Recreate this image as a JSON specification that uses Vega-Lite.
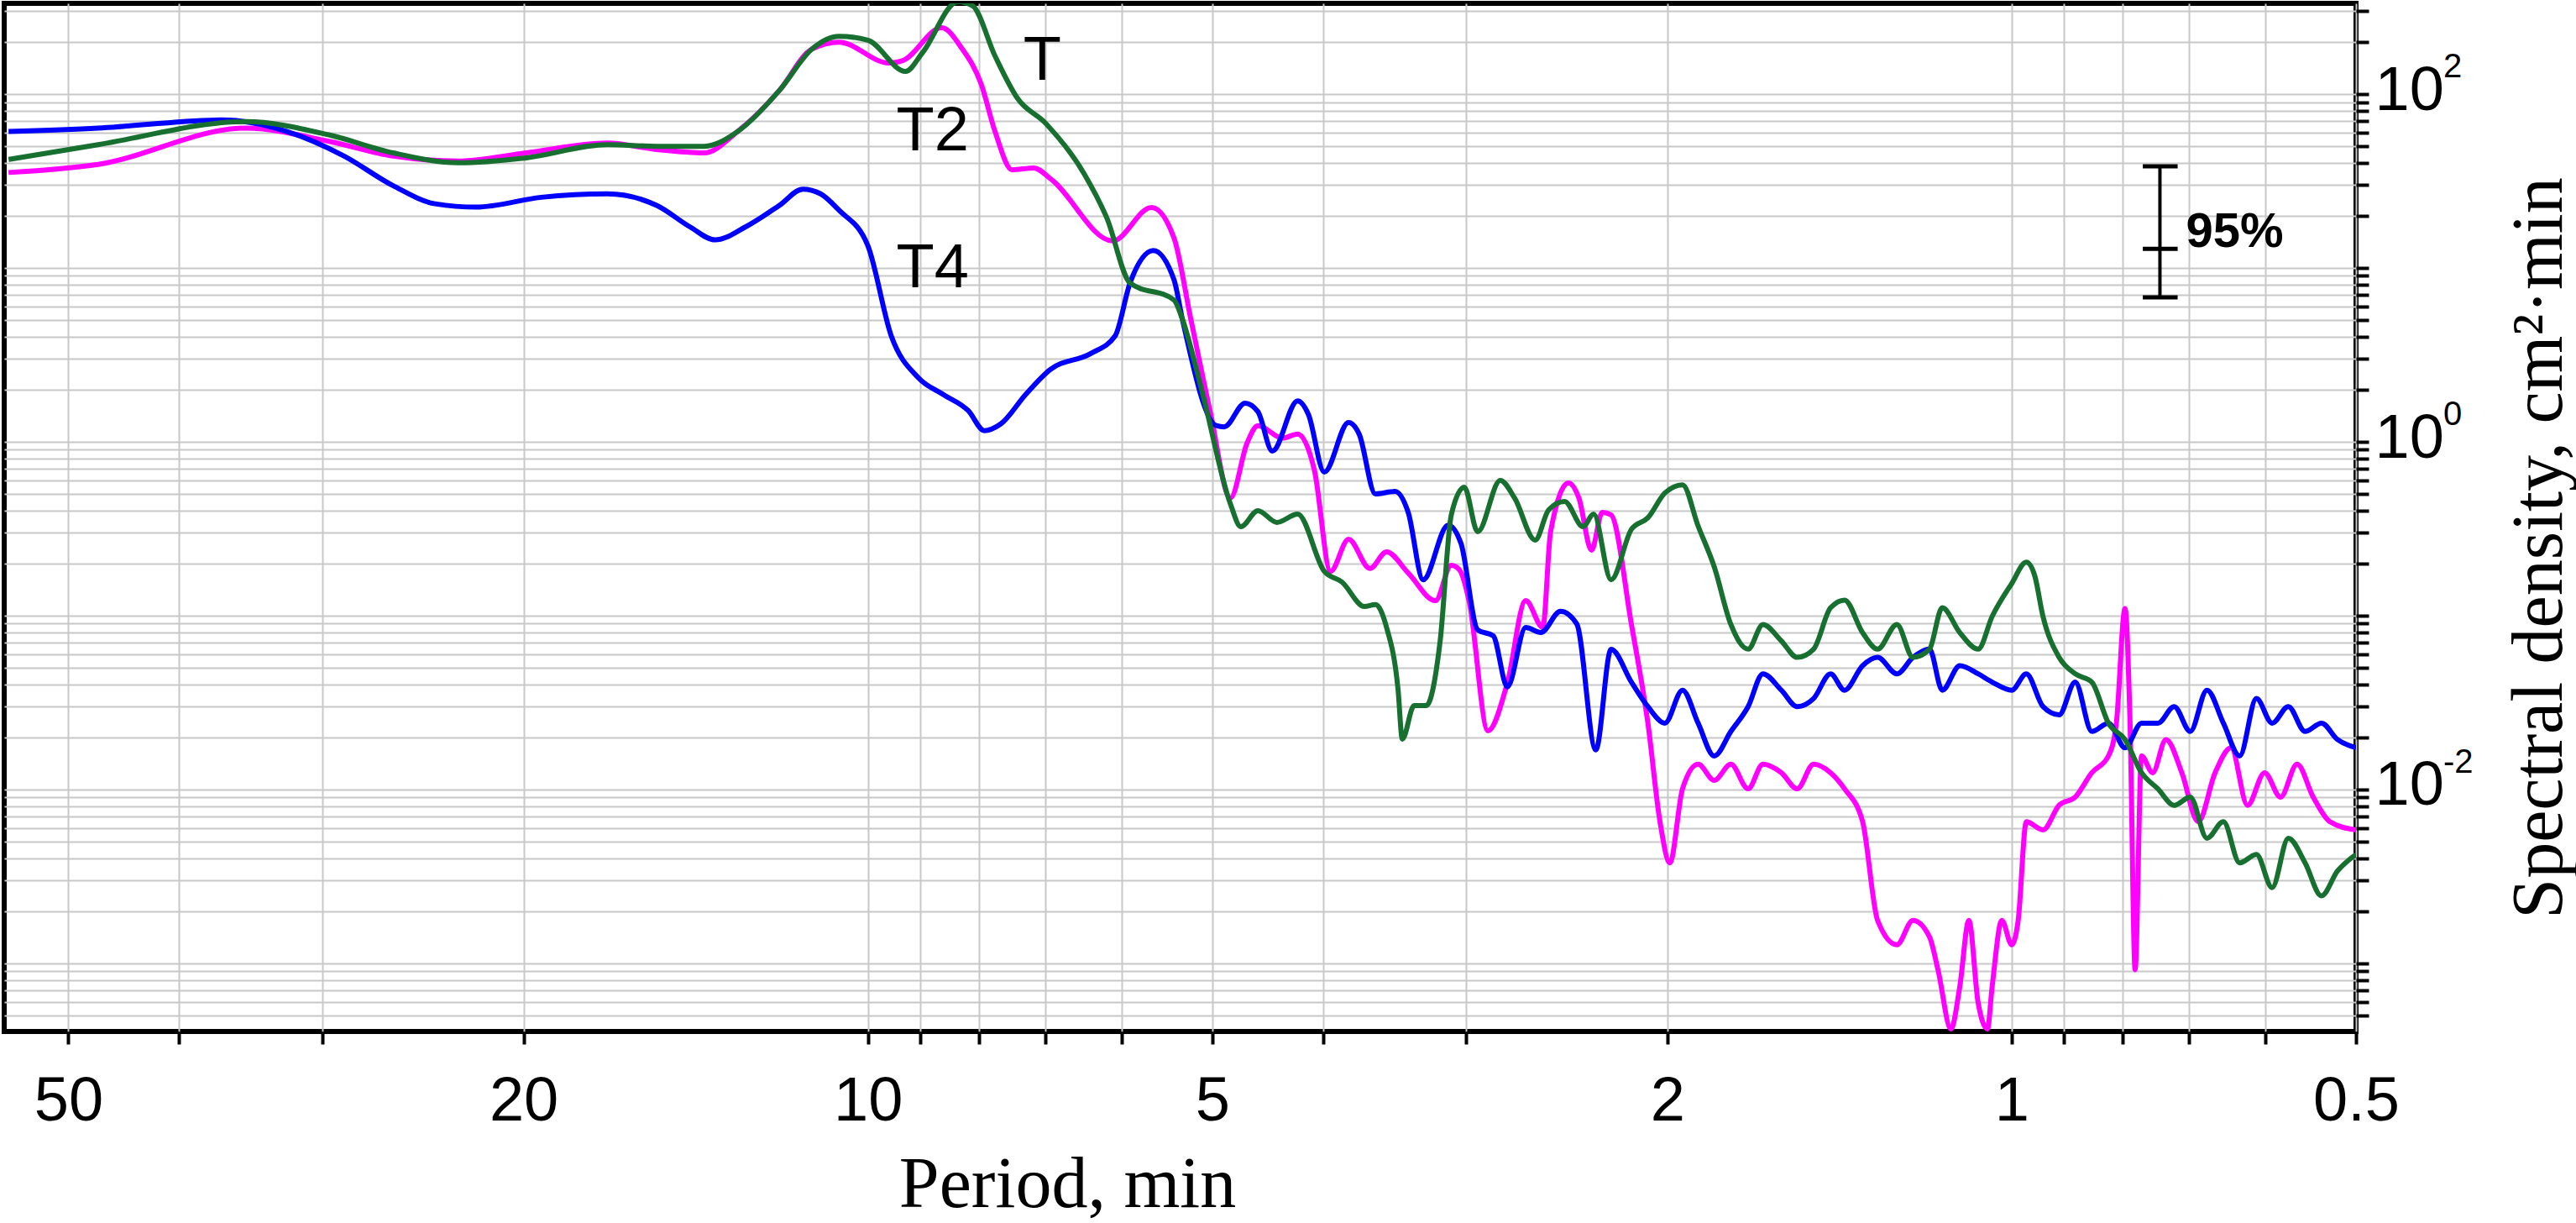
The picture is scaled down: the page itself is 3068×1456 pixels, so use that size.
{
"$schema": "https://vega.github.io/schema/vega-lite/v6.json",
"width": 2801, "height": 1224,
"autosize": {"type": "none"},
"padding": {"left": 5, "top": 4, "right": 262, "bottom": 228},
"background": "white",
"config": {"view": {"stroke": "black", "strokeWidth": 6}},
"datasets": {
"spectra": [
{"s":"T","p":56.4,"v":42.1},{"s":"T","p":47.1,"v":51.2},{"s":"T","p":35.0,"v":69.4},{"s":"T","p":29.6,"v":58.3},{"s":"T","p":26.0,"v":45.9},{"s":"T","p":22.8,"v":40.3},{"s":"T","p":19.9,"v":43.0},{"s":"T","p":16.9,"v":51.2},{"s":"T","p":15.3,"v":50.1},{"s":"T","p":13.9,"v":50.1},{"s":"T","p":13.0,"v":60.9},{"s":"T","p":11.95,"v":105},{"s":"T","p":11.2,"v":181},{"s":"T","p":10.6,"v":215},{"s":"T","p":10.0,"v":204},{"s":"T","p":9.27,"v":135},{"s":"T","p":8.96,"v":173},{"s":"T","p":8.34,"v":340},{"s":"T","p":8.10,"v":322},{"s":"T","p":7.74,"v":165},{"s":"T","p":7.40,"v":94.6},{"s":"T","p":6.99,"v":67.8},{"s":"T","p":6.47,"v":34.8},{"s":"T","p":6.18,"v":19.3},{"s":"T","p":5.90,"v":8.19},{"s":"T","p":5.40,"v":6.55},{"s":"T","p":5.31,"v":5.08},{"s":"T","p":5.11,"v":2.02},{"s":"T","p":4.82,"v":0.439},{"s":"T","p":4.72,"v":0.325},{"s":"T","p":4.56,"v":0.402},{"s":"T","p":4.39,"v":0.344},{"s":"T","p":4.21,"v":0.384},{"s":"T","p":3.99,"v":0.180},{"s":"T","p":3.85,"v":0.156},{"s":"T","p":3.68,"v":0.113},{"s":"T","p":3.60,"v":0.116},{"s":"T","p":3.52,"v":0.0856},{"s":"T","p":3.44,"v":0.0380},{"s":"T","p":3.41,"v":0.0195},{"s":"T","p":3.33,"v":0.0304},{"s":"T","p":3.25,"v":0.0304},{"s":"T","p":3.16,"v":0.0716},{"s":"T","p":3.09,"v":0.380},{"s":"T","p":3.01,"v":0.548},{"s":"T","p":2.93,"v":0.304},{"s":"T","p":2.80,"v":0.600},{"s":"T","p":2.72,"v":0.475},{"s":"T","p":2.61,"v":0.272},{"s":"T","p":2.54,"v":0.406},{"s":"T","p":2.46,"v":0.454},{"s":"T","p":2.37,"v":0.325},{"s":"T","p":2.32,"v":0.384},{"s":"T","p":2.24,"v":0.161},{"s":"T","p":2.15,"v":0.314},{"s":"T","p":2.08,"v":0.366},{"s":"T","p":2.01,"v":0.508},{"s":"T","p":1.94,"v":0.566},{"s":"T","p":1.88,"v":0.328},{"s":"T","p":1.82,"v":0.191},{"s":"T","p":1.76,"v":0.089},{"s":"T","p":1.70,"v":0.0642},{"s":"T","p":1.65,"v":0.089},{"s":"T","p":1.59,"v":0.0716},{"s":"T","p":1.54,"v":0.0576},{"s":"T","p":1.49,"v":0.0642},{"s":"T","p":1.44,"v":0.111},{"s":"T","p":1.40,"v":0.123},{"s":"T","p":1.35,"v":0.0798},{"s":"T","p":1.31,"v":0.0642},{"s":"T","p":1.26,"v":0.089},{"s":"T","p":1.22,"v":0.0576},{"s":"T","p":1.18,"v":0.0642},{"s":"T","p":1.15,"v":0.111},{"s":"T","p":1.11,"v":0.0798},{"s":"T","p":1.07,"v":0.0642},{"s":"T","p":1.04,"v":0.0992},{"s":"T","p":1.00,"v":0.153},{"s":"T","p":0.971,"v":0.203},{"s":"T","p":0.955,"v":0.171},{"s":"T","p":0.939,"v":0.0992},{"s":"T","p":0.909,"v":0.0576},{"s":"T","p":0.880,"v":0.0463},{"s":"T","p":0.851,"v":0.0415},{"s":"T","p":0.823,"v":0.0241},{"s":"T","p":0.796,"v":0.0194},{"s":"T","p":0.770,"v":0.0125},{"s":"T","p":0.745,"v":0.0101},{"s":"T","p":0.721,"v":0.00812},{"s":"T","p":0.698,"v":0.00905},{"s":"T","p":0.675,"v":0.00525},{"s":"T","p":0.653,"v":0.00653},{"s":"T","p":0.632,"v":0.00379},{"s":"T","p":0.611,"v":0.00423},{"s":"T","p":0.592,"v":0.00273},{"s":"T","p":0.573,"v":0.00525},{"s":"T","p":0.554,"v":0.00379},{"s":"T","p":0.536,"v":0.00245},{"s":"T","p":0.519,"v":0.0034},{"s":"T","p":0.5,"v":0.00423},
{"s":"T2","p":56.4,"v":35.4},{"s":"T2","p":47.1,"v":39.4},{"s":"T2","p":35.0,"v":63.7},{"s":"T2","p":29.6,"v":53.5},{"s":"T2","p":26.0,"v":44.0},{"s":"T2","p":22.8,"v":41.2},{"s":"T2","p":19.9,"v":45.9},{"s":"T2","p":16.9,"v":52.3},{"s":"T2","p":15.3,"v":48.0},{"s":"T2","p":13.9,"v":45.9},{"s":"T2","p":13.0,"v":60.9},{"s":"T2","p":11.95,"v":105},{"s":"T2","p":11.2,"v":181},{"s":"T2","p":10.6,"v":199},{"s":"T2","p":9.59,"v":151},{"s":"T2","p":9.32,"v":156},{"s":"T2","p":8.62,"v":241},{"s":"T2","p":8.28,"v":184},{"s":"T2","p":7.96,"v":114},{"s":"T2","p":7.74,"v":60.6},{"s":"T2","p":7.48,"v":36.7},{"s":"T2","p":7.16,"v":37.6},{"s":"T2","p":6.92,"v":32.5},{"s":"T2","p":6.11,"v":14.3},{"s":"T2","p":5.65,"v":22.3},{"s":"T2","p":5.40,"v":14.9},{"s":"T2","p":5.22,"v":5.08},{"s":"T2","p":5.02,"v":1.49},{"s":"T2","p":4.82,"v":0.475},{"s":"T2","p":4.66,"v":0.989},{"s":"T2","p":4.56,"v":1.24},{"s":"T2","p":4.34,"v":1.05},{"s":"T2","p":4.21,"v":1.11},{"s":"T2","p":4.07,"v":0.685},{"s":"T2","p":3.94,"v":0.180},{"s":"T2","p":3.80,"v":0.275},{"s":"T2","p":3.64,"v":0.187},{"s":"T2","p":3.52,"v":0.233},{"s":"T2","p":3.37,"v":0.176},{"s":"T2","p":3.19,"v":0.122},{"s":"T2","p":3.09,"v":0.195},{"s":"T2","p":3.04,"v":0.184},{"s":"T2","p":2.98,"v":0.120},{"s":"T2","p":2.87,"v":0.0218},{"s":"T2","p":2.76,"v":0.0411},{"s":"T2","p":2.66,"v":0.122},{"s":"T2","p":2.57,"v":0.0856},{"s":"T2","p":2.53,"v":0.304},{"s":"T2","p":2.44,"v":0.580},{"s":"T2","p":2.39,"v":0.475},{"s":"T2","p":2.33,"v":0.238},{"s":"T2","p":2.28,"v":0.393},{"s":"T2","p":2.24,"v":0.380},{"s":"T2","p":2.15,"v":0.089},{"s":"T2","p":2.08,"v":0.0241},{"s":"T2","p":2.03,"v":0.00653},{"s":"T2","p":1.99,"v":0.00379},{"s":"T2","p":1.94,"v":0.0101},{"s":"T2","p":1.88,"v":0.014},{"s":"T2","p":1.82,"v":0.0113},{"s":"T2","p":1.76,"v":0.014},{"s":"T2","p":1.70,"v":0.0101},{"s":"T2","p":1.65,"v":0.014},{"s":"T2","p":1.59,"v":0.0125},{"s":"T2","p":1.54,"v":0.0101},{"s":"T2","p":1.49,"v":0.014},{"s":"T2","p":1.44,"v":0.0125},{"s":"T2","p":1.40,"v":0.0101},{"s":"T2","p":1.35,"v":0.00653},{"s":"T2","p":1.31,"v":0.00177},{"s":"T2","p":1.26,"v":0.00128},{"s":"T2","p":1.22,"v":0.00177},{"s":"T2","p":1.18,"v":0.00142},{"s":"T2","p":1.16,"v":0.000921},{"s":"T2","p":1.13,"v":0.00042},{"s":"T2","p":1.11,"v":0.000741},{"s":"T2","p":1.09,"v":0.00177},{"s":"T2","p":1.07,"v":0.000596},{"s":"T2","p":1.05,"v":0.00042},{"s":"T2","p":1.04,"v":0.000741},{"s":"T2","p":1.02,"v":0.00177},{"s":"T2","p":1.00,"v":0.00128},{"s":"T2","p":0.987,"v":0.00177},{"s":"T2","p":0.971,"v":0.00653},{"s":"T2","p":0.939,"v":0.00586},{"s":"T2","p":0.909,"v":0.00812},{"s":"T2","p":0.880,"v":0.00905},{"s":"T2","p":0.851,"v":0.0125},{"s":"T2","p":0.823,"v":0.0156},{"s":"T2","p":0.810,"v":0.0241},{"s":"T2","p":0.796,"v":0.11},{"s":"T2","p":0.788,"v":0.0241},{"s":"T2","p":0.780,"v":0.00092},{"s":"T2","p":0.770,"v":0.0156},{"s":"T2","p":0.753,"v":0.0125},{"s":"T2","p":0.733,"v":0.0194},{"s":"T2","p":0.710,"v":0.0125},{"s":"T2","p":0.687,"v":0.00653},{"s":"T2","p":0.664,"v":0.0125},{"s":"T2","p":0.643,"v":0.0174},{"s":"T2","p":0.622,"v":0.00812},{"s":"T2","p":0.601,"v":0.0125},{"s":"T2","p":0.582,"v":0.00905},{"s":"T2","p":0.563,"v":0.014},{"s":"T2","p":0.545,"v":0.00905},{"s":"T2","p":0.527,"v":0.00653},{"s":"T2","p":0.5,"v":0.00586},
{"s":"T4","p":56.4,"v":60.9},{"s":"T4","p":47.1,"v":63.7},{"s":"T4","p":36.7,"v":71.0},{"s":"T4","p":32.2,"v":60.9},{"s":"T4","p":28.7,"v":44.0},{"s":"T4","p":26.0,"v":29.7},{"s":"T4","p":23.9,"v":23.4},{"s":"T4","p":22.0,"v":22.4},{"s":"T4","p":19.3,"v":25.5},{"s":"T4","p":16.9,"v":26.7},{"s":"T4","p":15.3,"v":22.9},{"s":"T4","p":14.3,"v":17.2},{"s":"T4","p":13.6,"v":14.5},{"s":"T4","p":12.8,"v":17.2},{"s":"T4","p":11.95,"v":22.9},{"s":"T4","p":11.4,"v":28.4},{"s":"T4","p":11.0,"v":26.7},{"s":"T4","p":10.6,"v":21.5},{"s":"T4","p":10.0,"v":13.4},{"s":"T4","p":9.54,"v":4.06},{"s":"T4","p":9.03,"v":2.33},{"s":"T4","p":8.59,"v":1.87},{"s":"T4","p":8.17,"v":1.51},{"s":"T4","p":7.91,"v":1.16},{"s":"T4","p":7.65,"v":1.27},{"s":"T4","p":7.28,"v":1.87},{"s":"T4","p":6.93,"v":2.60},{"s":"T4","p":6.38,"v":3.23},{"s":"T4","p":6.08,"v":4.06},{"s":"T4","p":5.90,"v":8.19},{"s":"T4","p":5.63,"v":12.6},{"s":"T4","p":5.40,"v":8.56},{"s":"T4","p":5.31,"v":5.08},{"s":"T4","p":4.96,"v":1.24},{"s":"T4","p":4.88,"v":1.22},{"s":"T4","p":4.68,"v":1.67},{"s":"T4","p":4.56,"v":1.49},{"s":"T4","p":4.43,"v":0.885},{"s":"T4","p":4.21,"v":1.72},{"s":"T4","p":4.12,"v":1.44},{"s":"T4","p":3.99,"v":0.670},{"s":"T4","p":3.80,"v":1.29},{"s":"T4","p":3.72,"v":1.11},{"s":"T4","p":3.60,"v":0.502},{"s":"T4","p":3.46,"v":0.519},{"s":"T4","p":3.37,"v":0.393},{"s":"T4","p":3.27,"v":0.161},{"s":"T4","p":3.11,"v":0.332},{"s":"T4","p":3.03,"v":0.260},{"s":"T4","p":2.93,"v":0.0828},{"s":"T4","p":2.84,"v":0.0766},{"s":"T4","p":2.76,"v":0.0389},{"s":"T4","p":2.66,"v":0.0856},{"s":"T4","p":2.58,"v":0.0801},{"s":"T4","p":2.48,"v":0.106},{"s":"T4","p":2.40,"v":0.0895},{"s":"T4","p":2.31,"v":0.0169},{"s":"T4","p":2.24,"v":0.0641},{"s":"T4","p":2.15,"v":0.0415},{"s":"T4","p":2.08,"v":0.03},{"s":"T4","p":2.01,"v":0.0241},{"s":"T4","p":1.94,"v":0.0373},{"s":"T4","p":1.88,"v":0.0241},{"s":"T4","p":1.82,"v":0.0156},{"s":"T4","p":1.76,"v":0.0216},{"s":"T4","p":1.70,"v":0.03},{"s":"T4","p":1.65,"v":0.0463},{"s":"T4","p":1.59,"v":0.0373},{"s":"T4","p":1.54,"v":0.03},{"s":"T4","p":1.49,"v":0.0334},{"s":"T4","p":1.44,"v":0.0463},{"s":"T4","p":1.40,"v":0.0373},{"s":"T4","p":1.35,"v":0.0516},{"s":"T4","p":1.31,"v":0.0576},{"s":"T4","p":1.26,"v":0.0463},{"s":"T4","p":1.22,"v":0.0576},{"s":"T4","p":1.18,"v":0.0642},{"s":"T4","p":1.15,"v":0.0373},{"s":"T4","p":1.11,"v":0.0516},{"s":"T4","p":1.07,"v":0.0463},{"s":"T4","p":1.04,"v":0.0415},{"s":"T4","p":1.00,"v":0.0373},{"s":"T4","p":0.971,"v":0.0463},{"s":"T4","p":0.939,"v":0.03},{"s":"T4","p":0.909,"v":0.0269},{"s":"T4","p":0.880,"v":0.0415},{"s":"T4","p":0.851,"v":0.0216},{"s":"T4","p":0.823,"v":0.0241},{"s":"T4","p":0.796,"v":0.0174},{"s":"T4","p":0.770,"v":0.0241},{"s":"T4","p":0.745,"v":0.0241},{"s":"T4","p":0.721,"v":0.03},{"s":"T4","p":0.698,"v":0.0216},{"s":"T4","p":0.675,"v":0.0373},{"s":"T4","p":0.653,"v":0.0241},{"s":"T4","p":0.632,"v":0.0156},{"s":"T4","p":0.611,"v":0.0334},{"s":"T4","p":0.592,"v":0.0241},{"s":"T4","p":0.573,"v":0.03},{"s":"T4","p":0.554,"v":0.0216},{"s":"T4","p":0.536,"v":0.0241},{"s":"T4","p":0.519,"v":0.0194},{"s":"T4","p":0.5,"v":0.0174}
],
"names": [{"p":7.04,"v":154,"t":"T"},{"p":8.78,"v":60.6,"t":"T2"},{"p":8.78,"v":9.89,"t":"T4"}],
"exps": [{"p":0.5,"v":100,"e":"2"},{"p":0.5,"v":1,"e":"0"},{"p":0.5,"v":0.01,"e":"-2"}],
"bar": [{"p":0.742,"v":6.78,"v2":38.4}],
"caps": [{"p":0.768,"p2":0.716,"v":38.4},{"p":0.768,"p2":0.716,"v":12.9},{"p":0.768,"p2":0.716,"v":6.78}],
"note": [{"p":0.704,"v":15.9,"t":"95%"}]
},
"encoding": {
"x": {"field": "p", "type": "quantitative",
 "scale": {"type": "log", "domain": [0.5, 56.9], "reverse": true, "nice": false, "zero": false},
 "axis": {"values": [50,40,30,20,10,9,8,7,6,5,4,3,2,1,0.9,0.8,0.7,0.6,0.5],
  "labelExpr": "indexof([50,20,10,5,2,1,0.5], datum.value) >= 0 ? format(datum.value, '~g') : ''",
  "domain": false, "ticks": true, "tickSize": 15, "tickWidth": 4, "tickColor": "black",
  "grid": true, "gridColor": "#c8c8c8", "gridWidth": 2,
  "labelFont": "Liberation Sans", "labelFontSize": 74, "labelColor": "black", "labelBaseline": "alphabetic", "labelPadding": 90,
  "labelOverlap": false, "labelFlush": false, "labelBound": false,
  "title": "Period, min", "titleFont": "Liberation Serif", "titleFontSize": 86, "titleFontWeight": "normal", "titleColor": "black",
  "titleX": 1266, "titleY": 208, "titleAlign": "center", "titleBaseline": "alphabetic"}},
"y": {"field": "v", "type": "quantitative",
 "scale": {"type": "log", "domain": [0.000406, 332.6], "nice": false, "zero": false},
 "axis": {"orient": "right",
  "values": [0.0005,0.0006,0.0007,0.0008,0.0009,0.001,0.002,0.003,0.004,0.005,0.006,0.007,0.008,0.009,0.01,0.02,0.03,0.04,0.05,0.06,0.07,0.08,0.09,0.1,0.2,0.3,0.4,0.5,0.6,0.7,0.8,0.9,1,2,3,4,5,6,7,8,9,10,20,30,40,50,60,70,80,90,100,200,300],
  "labelExpr": "datum.value == 100 || datum.value == 1 || datum.value == 0.01 ? '10' : ''",
  "domain": false, "ticks": true, "tickSize": 15, "tickWidth": 4, "tickColor": "black",
  "grid": true, "gridColor": "#c8c8c8", "gridWidth": 2,
  "labelFont": "Liberation Sans", "labelFontSize": 74, "labelColor": "black", "labelAlign": "left", "labelBaseline": "alphabetic", "labelPadding": 7, "labelOffset": 18,
  "labelOverlap": false, "labelFlush": false, "labelBound": false,
  "title": "Spectral density, cm²·min", "titleFont": "Liberation Serif", "titleFontSize": 86, "titleFontWeight": "normal", "titleColor": "black",
  "titleAngle": 270, "titleX": 244, "titleY": 648, "titleAlign": "center", "titleBaseline": "alphabetic"}}
},
"layer": [
{"data": {"name": "spectra"}, "transform": [{"filter": "datum.s == 'T2'"}], "mark": {"type": "line", "clip": true, "strokeWidth": 6, "color": "#ff00ff", "interpolate": "monotone"}},
{"data": {"name": "spectra"}, "transform": [{"filter": "datum.s == 'T4'"}], "mark": {"type": "line", "clip": true, "strokeWidth": 6, "color": "#0000ff", "interpolate": "monotone"}},
{"data": {"name": "spectra"}, "transform": [{"filter": "datum.s == 'T'"}], "mark": {"type": "line", "clip": true, "strokeWidth": 6, "color": "#17702f", "interpolate": "monotone"}},
{"data": {"name": "names"}, "mark": {"type": "text", "font": "Liberation Sans", "fontSize": 74, "color": "black", "align": "center", "baseline": "middle"}, "encoding": {"text": {"field": "t"}}},
{"data": {"name": "exps"}, "mark": {"type": "text", "font": "Liberation Sans", "fontSize": 40, "color": "black", "align": "left", "baseline": "alphabetic", "dx": 104, "dy": -20}, "encoding": {"text": {"field": "e"}}},
{"data": {"name": "bar"}, "mark": {"type": "rule", "color": "black", "strokeWidth": 4}, "encoding": {"y2": {"field": "v2"}}},
{"data": {"name": "caps"}, "mark": {"type": "rule", "color": "black", "strokeWidth": 5}, "encoding": {"x2": {"field": "p2"}}},
{"data": {"name": "note"}, "mark": {"type": "text", "font": "Liberation Sans", "fontSize": 58, "fontWeight": "bold", "color": "black", "align": "left", "baseline": "middle"}, "encoding": {"text": {"field": "t"}}}
]
}
